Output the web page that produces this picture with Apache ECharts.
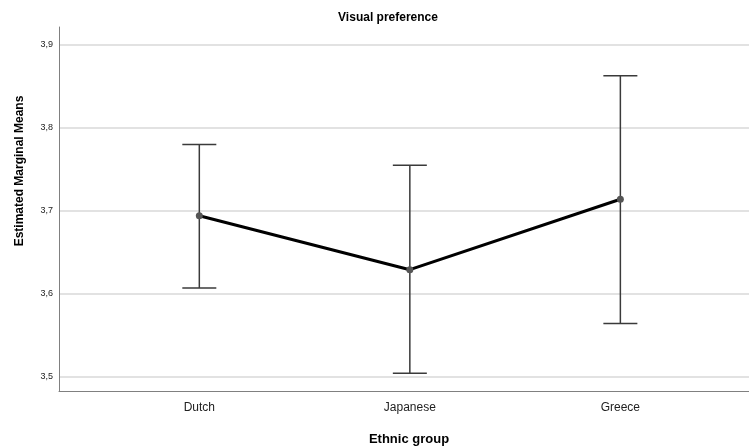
<!DOCTYPE html>
<html>
<head>
<meta charset="utf-8">
<script src="https://cdn.jsdelivr.net/npm/echarts@6/dist/echarts.min.js"></script>
<style>
  html, body { margin: 0; padding: 0; background: #fff; }
  #chart { width: 749px; height: 448px; }
</style>
</head>
<body>
<div id="chart"></div>
<script>
const groups = ["Dutch", "Japanese", "Greece"];
const means = [3.694, 3.629, 3.714];
const lower = [3.607, 3.504, 3.564];
const upper = [3.780, 3.755, 3.863];
const yTicks = [3.5, 3.6, 3.7, 3.8, 3.9];

const chart = echarts.init(document.getElementById("chart"));
const font = "'Liberation Sans', Arial, sans-serif";

const option = {
  animation: false,
  title: {
    text: "Visual preference",
    left: 383,
    top: 7,
    textAlign: "center",
    textStyle: { fontFamily: font, fontSize: 12, fontWeight: "bold", color: "#000" },
  },
  grid: { left: 59, right: 0, top: 27, bottom: 57, outerBoundsMode: "none" },
  xAxis: {
    type: "value",
    min: 0.3335,
    max: 3.611,
    name: "Ethnic group",
    nameLocation: "middle",
    nameGap: 42,
    nameTextStyle: { fontFamily: font, fontSize: 13, fontWeight: "bold", color: "#000", padding: [0, 0, 0, 10] },
    axisLine: { lineStyle: { color: "#808080", width: 1 } },
    axisTick: { show: false, customValues: [1, 2, 3] },
    splitLine: { show: false },
    axisLabel: {
      customValues: [1, 2, 3],
      formatter: (v) => groups[Math.round(v) - 1],
      fontFamily: font,
      fontSize: 12,
      color: "#222",
      margin: 11,
    },
  },
  yAxis: {
    type: "value",
    min: 3.4827,
    max: 3.9217,
    name: "Estimated Marginal Means",
    nameLocation: "middle",
    nameGap: 33,
    nameTextStyle: { fontFamily: font, fontSize: 12, fontWeight: "bold", color: "#000", padding: [0, 0, 0, 76] },
    axisLine: { show: true, lineStyle: { color: "#808080", width: 1 } },
    axisTick: { show: false, customValues: yTicks },
    splitLine: { show: true, lineStyle: { color: "#d9d9d9", width: 1.5 } },
    axisLabel: {
      customValues: yTicks,
      formatter: (v) => v.toFixed(1).replace(".", ","),
      fontFamily: font,
      fontSize: 9,
      color: "#222",
      margin: 6,
    },
  },
  series: [
    {
      type: "custom",
      data: groups.map((g, i) => [i + 1, lower[i], upper[i]]),
      renderItem: (params, api) => {
        const lo = api.coord([api.value(0), api.value(1)]);
        const hi = api.coord([api.value(0), api.value(2)]);
        const half = 17;
        const style = { stroke: "#3a3a3a", lineWidth: 1.5 };
        return {
          type: "group",
          children: [
            { type: "line", shape: { x1: hi[0], y1: hi[1], x2: lo[0], y2: lo[1] }, style },
            { type: "line", shape: { x1: hi[0] - half, y1: hi[1], x2: hi[0] + half, y2: hi[1] }, style },
            { type: "line", shape: { x1: lo[0] - half, y1: lo[1], x2: lo[0] + half, y2: lo[1] }, style },
          ],
        };
      },
      z: 2,
    },
    {
      type: "line",
      data: groups.map((g, i) => [i + 1, means[i]]),
      lineStyle: { color: "#000", width: 3 },
      symbol: "circle",
      symbolSize: 7,
      itemStyle: { color: "#555" },
      z: 3,
    },
  ],
};

chart.setOption(option);
</script>
</body>
</html>
